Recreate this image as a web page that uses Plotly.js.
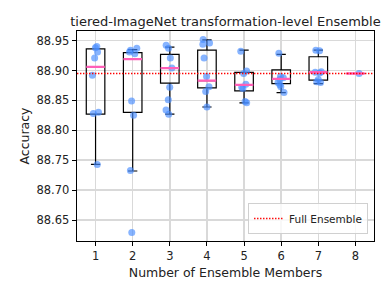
<!DOCTYPE html>
<html>
<head>
<meta charset="utf-8">
<script src="https://cdn.plot.ly/plotly-3.0.1.min.js"></script>
<style>html,body{margin:0;padding:0;background:#fff;}#chart{width:388px;height:295px;}</style>
</head>
<body>
<div id="chart"></div>
<script>
// Number of ensemble members
const members = [1, 2, 3, 4, 5, 6, 7, 8];
// Box statistics
const q1Vals     = [88.827, 88.830, 88.879, 88.871, 88.866, 88.878, 88.884, 88.895];
const medianVals = [88.906, 88.919, 88.904, 88.883, 88.876, 88.886, 88.897, 88.895];
const q3Vals     = [88.936, 88.930, 88.927, 88.934, 88.897, 88.901, 88.923, 88.895];
const lowerVals  = [88.743, 88.732, 88.827, 88.839, 88.846, 88.863, 88.878, 88.895];
const upperVals  = [88.936, 88.935, 88.939, 88.951, 88.934, 88.927, 88.934, 88.895];
// Individual ensemble accuracies per member count
const acc1 = [88.940, 88.938, 88.931, 88.921, 88.892, 88.830, 88.828, 88.743];
const acc2 = [88.937, 88.934, 88.931, 88.928, 88.849, 88.825, 88.733, 88.629];
const acc3 = [88.942, 88.937, 88.921, 88.904, 88.872, 88.851, 88.834, 88.827];
const acc4 = [88.952, 88.946, 88.944, 88.921, 88.890, 88.873, 88.865, 88.839];
const acc5 = [88.932, 88.899, 88.895, 88.877, 88.872, 88.870, 88.848, 88.846];
const acc6 = [88.929, 88.890, 88.888, 88.885, 88.880, 88.876, 88.873, 88.863];
const acc7 = [88.934, 88.933, 88.898, 88.897, 88.896, 88.885, 88.881, 88.880];
const acc8 = [88.895];
const fullEnsemble = 88.895;

const allAcc = [acc1, acc2, acc3, acc4, acc5, acc6, acc7, acc8];
const ptX = [], ptY = [];
allAcc.forEach((arr, i) => arr.forEach(v => { ptX.push(members[i]); ptY.push(v); }));

const font = "DejaVu Sans, sans-serif";

const boxTrace = {
  type: 'box', x: members, q1: q1Vals, median: medianVals, q3: q3Vals,
  lowerfence: lowerVals, upperfence: upperVals,
  width: 0.5, whiskerwidth: 0.5,
  line: {color: '#000', width: 1.2}, fillcolor: 'rgba(0,0,0,0)',
  boxpoints: false, showlegend: false, hoverinfo: 'skip'
};
const pointsTrace = {
  type: 'box', x: ptX, y: ptY, width: 0.5,
  boxpoints: 'all', jitter: 0.5, pointpos: 0,
  line: {color: 'rgba(0,0,0,0)', width: 0}, fillcolor: 'rgba(0,0,0,0)',
  marker: {color: 'rgba(70,140,255,0.65)', size: 7},
  showlegend: false, hoverinfo: 'skip'
};
const medianTrace = {
  type: 'box', x: members, q1: medianVals, median: medianVals, q3: medianVals,
  lowerfence: medianVals, upperfence: medianVals,
  width: 0.5, whiskerwidth: 0,
  line: {color: '#ff5fb8', width: 2.4}, fillcolor: 'rgba(0,0,0,0)',
  boxpoints: false, showlegend: false, hoverinfo: 'skip'
};
const fullTrace = {
  type: 'scatter', mode: 'lines',
  x: [members[0] - 0.5, members[members.length - 1] + 0.5],
  y: [fullEnsemble, fullEnsemble],
  line: {color: '#ff0000', width: 1.4, dash: '1.4px,1.6px'},
  name: 'Full Ensemble', showlegend: true, hoverinfo: 'skip'
};

const layout = {
  width: 388, height: 295,
  margin: {l: 77, r: 14, t: 31, b: 54, pad: 0},
  paper_bgcolor: '#fff', plot_bgcolor: '#fff',
  font: {family: font, size: 11.5, color: '#222'},
  title: {text: 'tiered-ImageNet transformation-level Ensemble', font: {family: font, size: 13, color: '#222'},
          x: 0.5, xref: 'paper', xanchor: 'center', y: 1, yref: 'paper', yanchor: 'bottom', pad: {b: 5}},
  xaxis: {
    range: [0.5, 8.5], tickmode: 'array', tickvals: members, ticktext: members.map(String),
    tickfont: {family: font, size: 11.5, color: '#222'},
    showgrid: true, gridcolor: '#d9d9d9', gridwidth: 1.5,
    showline: true, linecolor: '#000', linewidth: 1.3, mirror: true,
    ticks: 'outside', ticklen: 4, tickcolor: '#000', zeroline: false,
    title: {text: 'Number of Ensemble Members', font: {family: font, size: 12.5, color: '#222'}, standoff: 6}
  },
  yaxis: {
    range: [88.615, 88.966], tickmode: 'array',
    tickvals: [88.65, 88.70, 88.75, 88.80, 88.85, 88.90, 88.95],
    ticktext: ['88.65', '88.70', '88.75', '88.80', '88.85', '88.90', '88.95'],
    tickfont: {family: font, size: 11.5, color: '#222'},
    showgrid: true, gridcolor: '#d9d9d9', gridwidth: 1.5,
    showline: true, linecolor: '#000', linewidth: 1.3, mirror: true,
    ticks: 'outside', ticklen: 4, tickcolor: '#000', zeroline: false,
    title: {text: 'Accuracy', font: {family: font, size: 12.5, color: '#222'}, standoff: 4}
  },
  boxmode: 'overlay',
  legend: {x: 0.98, xanchor: 'right', y: 0.033, yanchor: 'bottom',
           bgcolor: 'rgba(255,255,255,0.8)', bordercolor: '#d0d0d0', borderwidth: 1,
           font: {family: font, size: 10.5, color: '#222'}, itemwidth: 30}
};

Plotly.newPlot('chart', [boxTrace, pointsTrace, medianTrace, fullTrace], layout, {displayModeBar: false, staticPlot: true});
</script>
</body>
</html>
